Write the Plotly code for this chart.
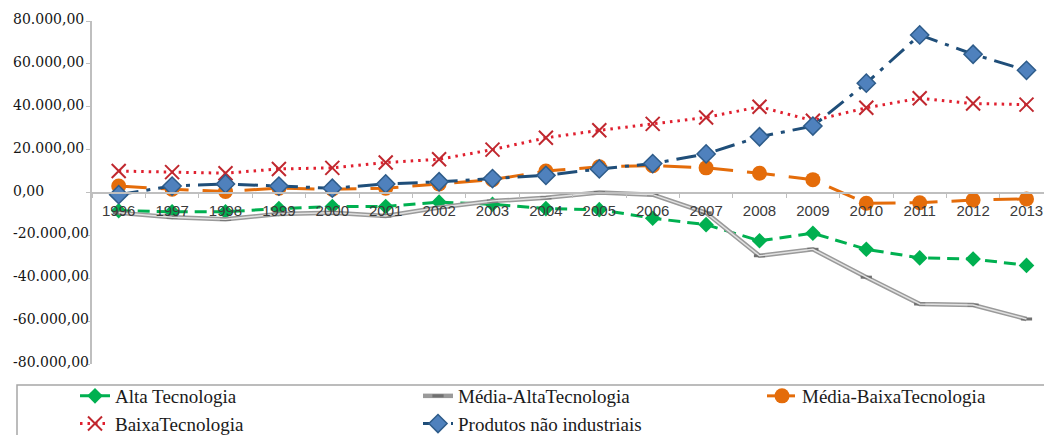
import plotly.graph_objects as go

years = [str(y) for y in range(1996, 2014)]

alta = [-8500, -9000, -9000, -7500, -6500, -6500, -4500, -5500, -7500, -8000,
        -12000, -15000, -22500, -19000, -26500, -30500, -31000, -34000]
media_alta = [-9500, -11500, -12500, -10000, -9500, -11000, -7000, -4000, -2500, 0,
              -1000, -9500, -29500, -26500, -39500, -52000, -52500, -59000]
media_baixa = [3000, 1500, 500, 2000, 1500, 2000, 4000, 6000, 10000, 12000,
               12500, 11500, 9000, 6000, -5000, -4800, -3500, -3000]
baixa = [10000, 9500, 9000, 11000, 11500, 14000, 15500, 20000, 25500, 29000,
         32000, 35000, 40000, 33500, 39500, 44000, 41500, 41000]
produtos = [-1000, 3000, 4000, 3000, 2000, 4000, 5000, 6500, 8000, 11000,
            13500, 18000, 26000, 31000, 51000, 73500, 64500, 57000]

y_tickvals = [80000, 60000, 40000, 20000, 0, -20000, -40000, -60000, -80000]
y_ticktext = ["80.000,00", "60.000,00", "40.000,00", "20.000,00", "0,00",
              "-20.000,00", "-40.000,00", "-60.000,00", "-80.000,00"]

W, H = 1044, 435
MT, MB = 21, 71
x0px = 92
PH = H - MT - MB
CAT_W = 53.4

def px_x(p):
    return p / W

def px_y(p):
    return (H - MB - p) / PH

fig = go.Figure()

fig.add_trace(go.Scatter(
    x=years, y=alta, name="Alta Tecnologia", mode="lines+markers",
    line=dict(color="#00B050", width=3, dash="12px,7px"),
    marker=dict(symbol="diamond", size=12, color="#00B050"),
    legend="legend",
))
fig.add_trace(go.Scatter(
    x=years, y=media_alta, name="Média-AltaTecnologia", mode="lines+markers",
    line=dict(color="#9A9A9A", width=4.5),
    marker=dict(symbol="line-ew", size=8, color="#707070",
                line=dict(color="#707070", width=3)),
    legend="legend2",
))
fig.add_trace(go.Scatter(
    x=years, y=media_alta, name="Média-AltaTecnologia", mode="lines",
    line=dict(color="#E2E2E2", width=1.5), showlegend=False, hoverinfo="skip",
))
fig.add_trace(go.Scatter(
    x=years, y=media_baixa, name="Média-BaixaTecnologia", mode="lines+markers",
    line=dict(color="#E46C0A", width=3, dash="28px,14px"),
    marker=dict(symbol="circle", size=15, color="#E46C0A"),
    legend="legend3",
))
fig.add_trace(go.Scatter(
    x=years, y=baixa, name="BaixaTecnologia", mode="lines+markers",
    line=dict(color="#E0202F", width=3, dash="2.5px,5px"),
    marker=dict(symbol="x-thin", size=14, color="#C0282F",
                line=dict(color="#C0282F", width=2)),
    legend="legend",
))
fig.add_trace(go.Scatter(
    x=years, y=produtos, name="Produtos não industriais", mode="lines+markers",
    line=dict(color="#1F4E79", width=3, dash="20px,8px,4px,8px"),
    marker=dict(symbol="diamond", size=14, color="#4F81BD",
                line=dict(color="#2E5C8A", width=1.5)),
    legend="legend2",
))

legend_font = dict(family="Liberation Serif", size=19, color="#1A1A1A")
legend_common = dict(
    orientation="v", xanchor="left", yanchor="top",
    y=px_y(377),
    font=legend_font, bgcolor="rgba(0,0,0,0)", borderwidth=0,
    tracegroupgap=0,
)

annotations = [
    dict(x=px_x(11), xref="paper", y=v, yref="y", text=t, showarrow=False,
         xanchor="left", yanchor="middle", yshift=2,
         font=dict(family="DejaVu Serif", size=14, color="#151515"))
    for v, t in zip(y_tickvals, y_ticktext)
]

fig.update_layout(
    width=W, height=H,
    margin=dict(l=0, r=0, t=MT, b=MB, autoexpand=False),
    paper_bgcolor="white", plot_bgcolor="white",
    showlegend=True,
    xaxis=dict(
        domain=[x0px / W, 1],
        type="category",
        range=[-0.5, -0.5 + (W - x0px) / CAT_W],
        anchor="free", position=0.5,
        showline=True, linecolor="#BFBFBF", linewidth=1.5,
        ticks="outside", tickson="boundaries", ticklen=5, tickcolor="#BFBFBF",
        ticklabelstandoff=5,
        tickfont=dict(family="Liberation Sans", size=15, color="#3A3A3A"),
        showgrid=False, zeroline=False,
    ),
    yaxis=dict(
        domain=[0, 1],
        range=[-80000, 80000],
        tickmode="array", tickvals=y_tickvals,
        showticklabels=False,
        showline=True, linecolor="#BFBFBF", linewidth=1.5,
        ticks="outside", ticklen=4, tickcolor="#BFBFBF",
        showgrid=False, zeroline=False,
    ),
    legend=dict(x=px_x(75), **legend_common),
    legend2=dict(x=px_x(418), **legend_common),
    legend3=dict(x=px_x(762), **legend_common),
    annotations=annotations,
    shapes=[dict(
        type="rect", xref="paper", yref="paper",
        x0=px_x(17), x1=px_x(1070), y0=px_y(385), y1=px_y(450),
        line=dict(color="#A6A6A6", width=1.5), fillcolor="rgba(0,0,0,0)",
        layer="below",
    )],
)

fig.write_html("out.html", config={"displayModeBar": False},
               post_script="document.body.style.margin='0';")
